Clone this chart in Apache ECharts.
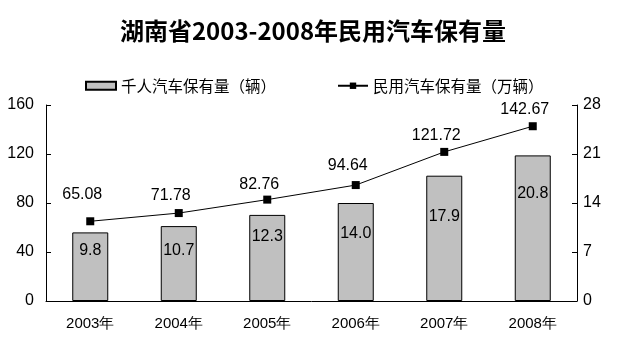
<!DOCTYPE html>
<html><head><meta charset="utf-8">
<script src="https://cdn.jsdelivr.net/npm/echarts@6/dist/echarts.min.js"></script>
<style>html,body{margin:0;padding:0;background:#fff}#c{width:626px;height:346px}</style>
</head><body><div id="c"></div>
<script>
var categories = ['2003年','2004年','2005年','2006年','2007年','2008年'];
var perThousand = [9.8, 10.7, 12.3, 14.0, 17.9, 20.8];
var civilVehicles = [65.08, 71.78, 82.76, 94.64, 121.72, 142.67];
var leftTicks = {min:0, max:160, interval:40};
var rightTicks = {min:0, max:28, interval:7};

// label placement styles (not data)
var barLabelDistance = [10, 16, 14, 23, 33, 30];
var lineLabelDistance = [15, 5, 3, 7, 4, 5];

var chart = echarts.init(document.getElementById('c'));
var fontNum = 'Liberation Sans, Arial, sans-serif';
var barData = perThousand.map(function(v,i){return {value:v, label:{distance:barLabelDistance[i]}};});
var lineData = civilVehicles.map(function(v,i){return {value:v, label:{distance:lineLabelDistance[i]}};});
chart.setOption({
  animation:false,
  title:{text:'湖南省2003-2008年民用汽车保有量', left:'center', top:14,
    textStyle:{fontFamily:'Noto Sans CJK SC', fontWeight:'bold', fontSize:24, color:'#000'}},
  legend:{top:73, left:80, itemGap:61, itemWidth:30, itemHeight:8,
    textStyle:{fontFamily:'Noto Sans CJK SC, sans-serif', fontSize:15.5, color:'#000'},
    data:[{name:'千人汽车保有量（辆）', icon:'rect'},{name:'民用汽车保有量（万辆）'}]},
  grid:{left:46, right:49, top:105, bottom:45},
  xAxis:{type:'category', data:categories, boundaryGap:true,
    axisLine:{lineStyle:{color:'#000'}},
    axisTick:{inside:true, length:5, lineStyle:{color:'#000'}},
    axisLabel:{color:'#000', fontFamily:fontNum, fontSize:15, margin:15}},
  yAxis:[
    {type:'value', min:leftTicks.min, max:leftTicks.max, interval:leftTicks.interval,
      axisLine:{show:true, lineStyle:{color:'#000'}},
      axisTick:{show:true, inside:true, length:5, lineStyle:{color:'#000'}},
      splitLine:{show:false},
      axisLabel:{color:'#000', fontFamily:fontNum, fontSize:16, margin:12}},
    {type:'value', position:'right', min:rightTicks.min, max:rightTicks.max, interval:rightTicks.interval,
      axisLine:{show:true, lineStyle:{color:'#000'}},
      axisTick:{show:true, inside:true, length:5, lineStyle:{color:'#000'}},
      splitLine:{show:false},
      axisLabel:{color:'#000', fontFamily:fontNum, fontSize:16, margin:6}}
  ],
  series:[
    {name:'千人汽车保有量（辆）', type:'bar', yAxisIndex:1, data:barData, barWidth:36,
      itemStyle:{color:'#c0c0c0', borderColor:'#000', borderWidth:1},
      label:{show:true, position:'insideTop', color:'#000', fontFamily:fontNum, fontSize:16,
        formatter:function(p){return p.value.toFixed(1);}}},
    {name:'民用汽车保有量（万辆）', type:'line', yAxisIndex:0, data:lineData,
      symbol:'rect', symbolSize:8,
      lineStyle:{color:'#000', width:1}, itemStyle:{color:'#000'},
      label:{show:true, position:'top', offset:[-8,0], color:'#000', fontFamily:fontNum, fontSize:16,
        formatter:function(p){return p.value.toFixed(2);}}}
  ]
});
</script></body></html>
